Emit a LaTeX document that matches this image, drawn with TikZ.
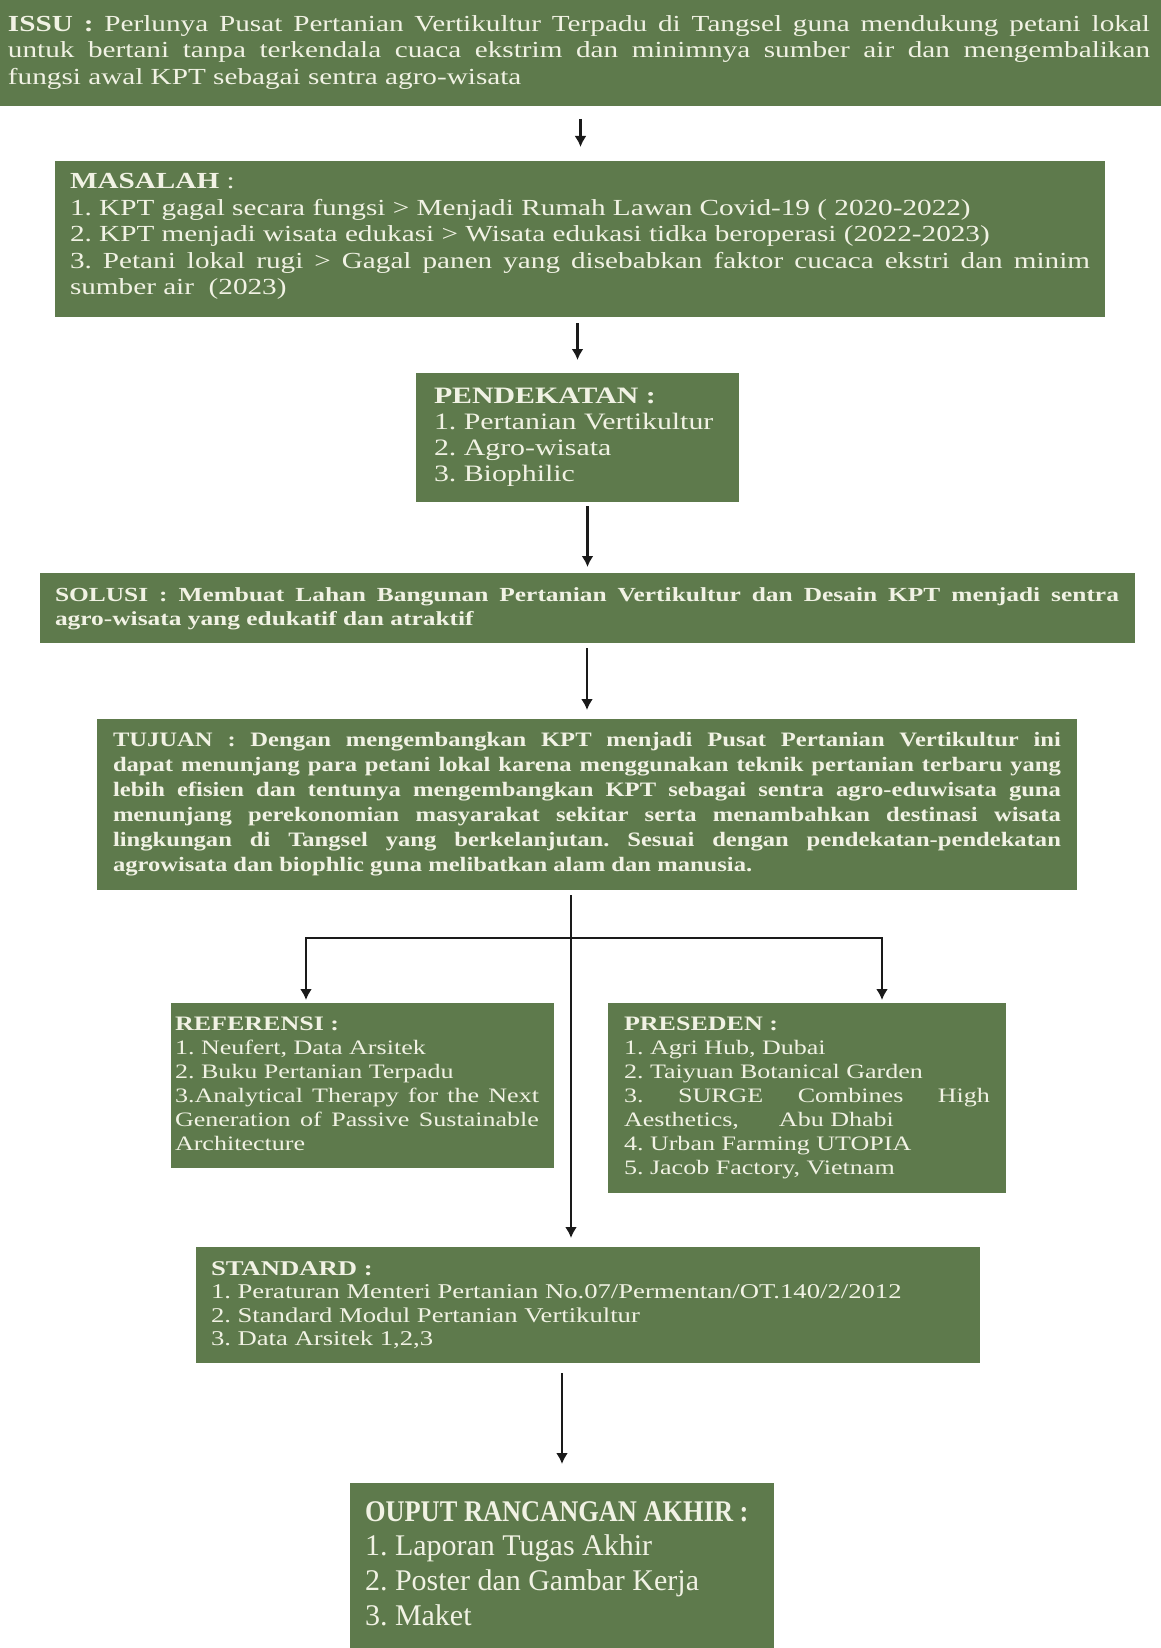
\documentclass[tikz,border=0pt]{standalone}
\usepackage{fontspec}
\setmainfont{Liberation Serif}
\newfontfamily\wideserif{Liberation Serif}[FakeStretch=1.27]
\newfontfamily\midserif{Liberation Serif}[FakeStretch=1.2]
\usetikzlibrary{arrows.meta}
\definecolor{boxgreen}{HTML}{5E7A4C}
\definecolor{txtcream}{HTML}{F1F2E4}
\definecolor{linedark}{HTML}{1A1A1A}
\newcommand{\jl}[1]{\makebox[\linewidth][s]{#1}}
\frenchspacing
\tikzset{
  box/.style={fill=boxgreen, draw=none, inner sep=0pt, outer sep=0pt, anchor=north west},
  txt/.style={anchor=base west, inner sep=0pt, outer sep=0pt, text=txtcream},
  arr/.style={draw=linedark, line width=2.6pt, -{Latex[length=11pt,width=12pt]}},
}
\begin{document}
\begin{tikzpicture}[x=1pt,y=-1pt]
\useasboundingbox (0,0) rectangle (1161,1648);
\fill[white] (0,0) rectangle (1161,1648);

% boxes
\node[box, minimum width=1161pt, minimum height=106pt] (issu) at (0,0) {};
\node[box, minimum width=1050pt, minimum height=156pt] (masalah) at (55,161) {};
\node[box, minimum width=323pt, minimum height=129pt] (pend) at (416,373) {};
\node[box, minimum width=1095pt, minimum height=70pt] (solusi) at (40,573) {};
\node[box, minimum width=980pt, minimum height=171pt] (tujuan) at (97,719) {};
\node[box, minimum width=383pt, minimum height=165pt] (referensi) at (171,1003) {};
\node[box, minimum width=398pt, minimum height=190pt] (preseden) at (608,1003) {};
\node[box, minimum width=784pt, minimum height=116pt] (standard) at (196,1247) {};
\node[box, minimum width=424pt, minimum height=165pt] (output) at (350,1483) {};

% texts
\node[txt] (issuT) at (8,31.5) {\begin{minipage}[t]{1142pt}\wideserif\fontsize{23}{26.5}\selectfont
\jl{\textbf{ISSU :} Perlunya Pusat Pertanian Vertikultur Terpadu di Tangsel guna mendukung petani lokal}\\
\jl{untuk bertani tanpa terkendala cuaca ekstrim dan minimnya sumber air dan mengembalikan}\\
fungsi awal KPT sebagai sentra agro-wisata
\end{minipage}};

\node[txt] (masalahT) at (70,188.5) {\begin{minipage}[t]{1020pt}\wideserif\fontsize{23}{26.6}\selectfont
\textbf{MASALAH} :\\
1. KPT gagal secara fungsi > Menjadi Rumah Lawan Covid-19 ( 2020-2022)\\
2. KPT menjadi wisata edukasi > Wisata edukasi tidka beroperasi (2022-2023)\\
\jl{3. Petani lokal rugi > Gagal panen yang disebabkan faktor cucaca ekstri dan minim}\\
sumber air \ (2023)
\end{minipage}};

\node[txt] (pendT) at (434,403) {\begin{minipage}[t]{295pt}\wideserif\fontsize{23.5}{26.3}\selectfont
\textbf{PENDEKATAN :}\\
1. Pertanian Vertikultur\\
2. Agro-wisata\\
3. Biophilic
\end{minipage}};

\node[txt] (solusiT) at (55,601.5) {\begin{minipage}[t]{1064pt}\wideserif\bfseries\fontsize{20}{24}\selectfont
\jl{SOLUSI : Membuat Lahan Bangunan Pertanian Vertikultur dan Desain KPT menjadi sentra}\\
agro-wisata yang edukatif dan atraktif
\end{minipage}};

\node[txt] (tujuanT) at (113,746) {\begin{minipage}[t]{948pt}\midserif\bfseries\fontsize{20.5}{25}\selectfont
\jl{TUJUAN : Dengan mengembangkan KPT menjadi Pusat Pertanian Vertikultur ini}\\
\jl{dapat menunjang para petani lokal karena menggunakan teknik pertanian terbaru yang}\\
\jl{lebih efisien dan tentunya mengembangkan KPT sebagai sentra agro-eduwisata guna}\\
\jl{menunjang perekonomian masyarakat sekitar serta menambahkan destinasi wisata}\\
\jl{lingkungan di Tangsel yang berkelanjutan. Sesuai dengan pendekatan-pendekatan}\\
agrowisata dan biophlic guna melibatkan alam dan manusia.
\end{minipage}};

\node[txt] (referensiT) at (175,1030) {\begin{minipage}[t]{364pt}\wideserif\fontsize{20.5}{24}\selectfont
\textbf{REFERENSI :}\\
1. Neufert, Data Arsitek\\
2. Buku Pertanian Terpadu\\
\jl{3.Analytical Therapy for the Next}\\
\jl{Generation of Passive Sustainable}\\
Architecture
\end{minipage}};

\node[txt] (presedenT) at (624,1030) {\begin{minipage}[t]{366pt}\wideserif\fontsize{20.5}{24}\selectfont
\textbf{PRESEDEN :}\\
1. Agri Hub, Dubai\\
2. Taiyuan Botanical Garden\\
\jl{3. SURGE Combines High}\\
Aesthetics,\hspace{40pt}Abu Dhabi\\
4. Urban Farming UTOPIA\\
5. Jacob Factory, Vietnam
\end{minipage}};

\node[txt] (standardT) at (211,1275) {\begin{minipage}[t]{750pt}\wideserif\fontsize{21}{23.5}\selectfont
\textbf{STANDARD :}\\
1. Peraturan Menteri Pertanian No.07/Permentan/OT.140/2/2012\\
2. Standard Modul Pertanian Vertikultur\\
3. Data Arsitek 1,2,3
\end{minipage}};

\node[txt] (outputT) at (365,1521) {\begin{minipage}[t]{400pt}\fontsize{30}{34.7}\selectfont
\scalebox{0.88}[1]{\textbf{OUPUT RANCANGAN AKHIR :}}\\
1. Laporan Tugas Akhir\\
2. Poster dan Gambar Kerja\\
3. Maket
\end{minipage}};

% connectors
\coordinate (split) at (571,938);
\coordinate (brL) at (306,938);
\coordinate (brR) at (882,938);

\draw[arr, shorten <=13pt, shorten >=14pt] (issu.south) -- (issu.south |- masalah.north);
\draw[arr, shorten <=6pt, shorten >=13pt] (pend.north |- masalah.south) -- (pend.north);
\draw[arr, shorten <=4pt, shorten >=6pt] (solusi.north |- pend.south) -- (solusi.north);
\draw[arr, shorten <=5pt, shorten >=9pt] (tujuan.north |- solusi.south) -- (tujuan.north);
\draw[arr, shorten <=5pt, shorten >=9pt] (split |- tujuan.south) -- (split |- standard.north);
\draw[arr, shorten >=3pt] (split) -- (brL) -- (brL |- referensi.north);
\draw[arr, shorten >=3pt] (split) -- (brR) -- (brR |- preseden.north);
\draw[arr, shorten <=10pt, shorten >=19pt] (output.north |- standard.south) -- (output.north);
\end{tikzpicture}
\end{document}
